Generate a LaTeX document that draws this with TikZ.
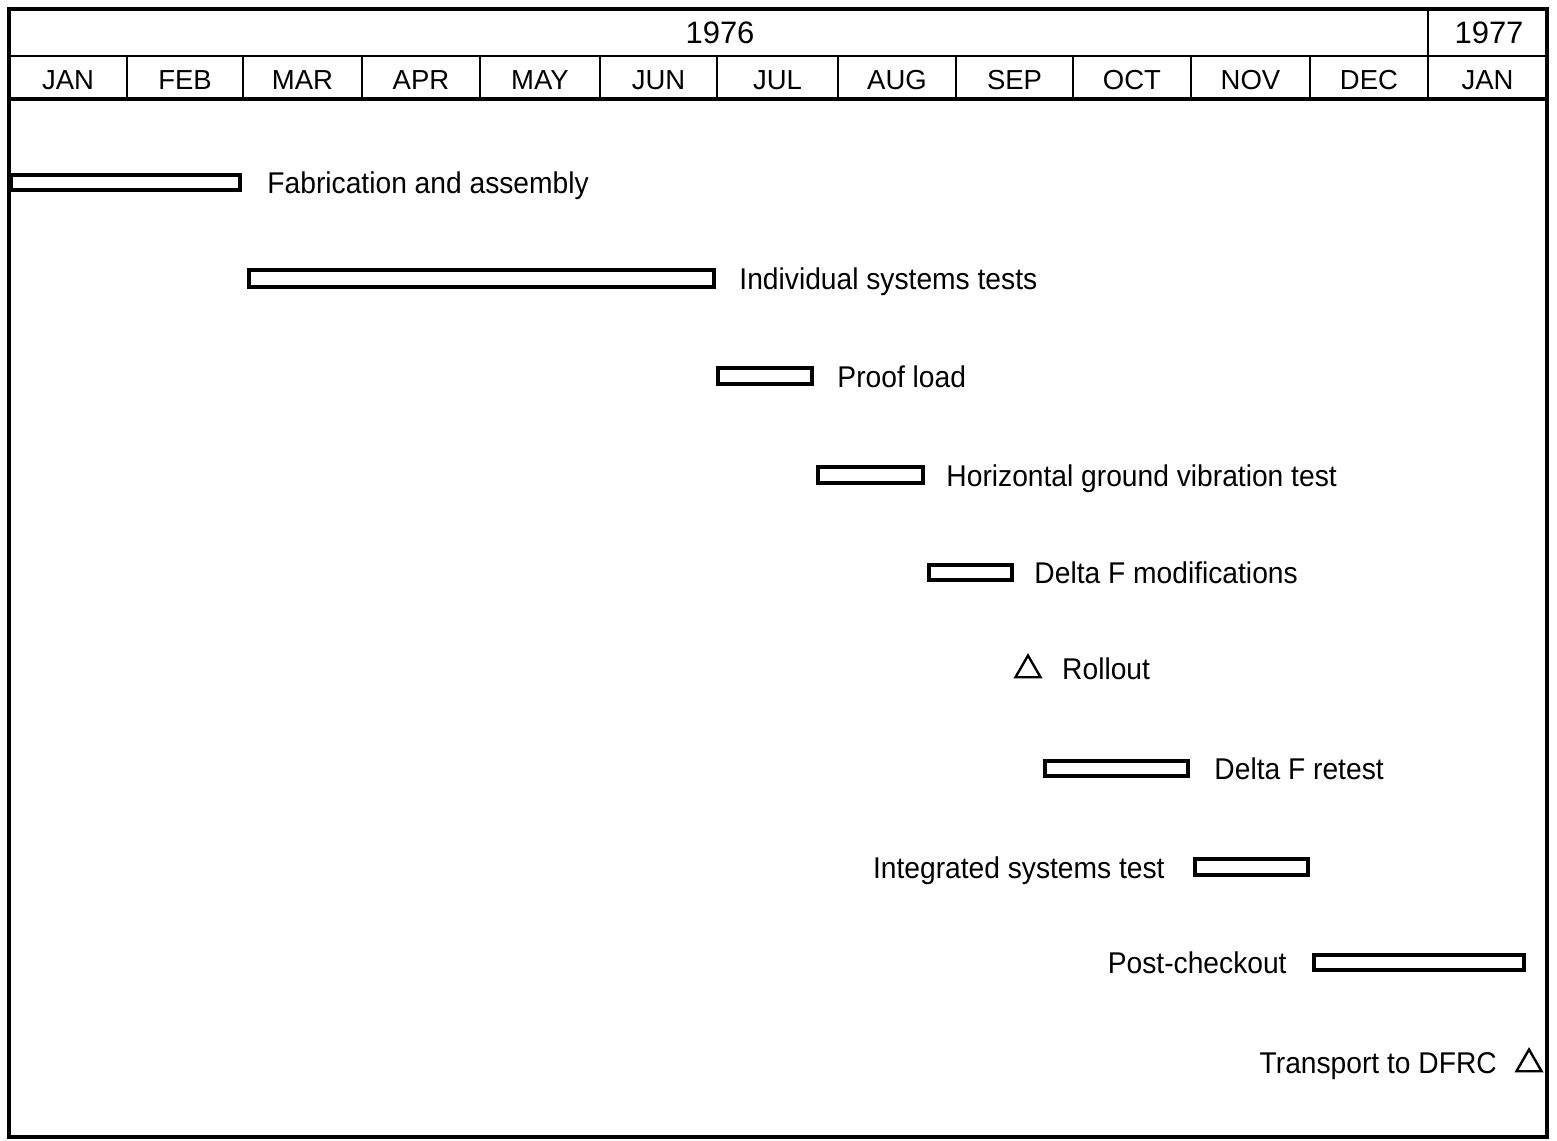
\documentclass[tikz,border=0pt]{standalone}
\usepackage{fontspec}
\setmainfont{Liberation Sans}
\newfontfamily\bodyfont[FakeStretch=0.94]{Liberation Sans}
\usetikzlibrary{calc,shapes.geometric}
\begin{document}
\begin{tikzpicture}[x=1pt,y=-1pt,
  frame/.style={line width=4pt},
  rule/.style={line width=2.5pt},
  bar/.style={draw, rectangle, line width=4.5pt, inner sep=0pt, minimum height=15pt},
  lbl/.style={inner sep=0pt, font=\bodyfont\fontsize{30}{32}\selectfont},
  hdr/.style={inner sep=0pt, anchor=base, font=\fontsize{27.5}{30}\selectfont},
  yr/.style={inner sep=0pt, anchor=base, font=\fontsize{31}{33}\selectfont},
  ms/.style={draw, regular polygon, regular polygon sides=3, line width=2.4pt, inner sep=0pt, minimum size=29pt}
]
\useasboundingbox (0,0) rectangle (1557,1140);
\fill[white] (0,0) rectangle (1557,1140);
% frame and header
\draw[frame] (9,9) rectangle (1547,1137);
\draw[rule] (9,56) -- (1547,56);
\draw[frame] (9,99) -- (1547,99);
\draw[rule] (1428,9) -- (1428,56);
\node[yr] (y76) at (720,44) {1976};
\node[yr] (y77) at (1489,44) {1977};
\foreach \a/\b/\m [count=\i] in {9/127/JAN,127/243/FEB,243/362/MAR,362/480/APR,480/600/MAY,600/717/JUN,717/838/JUL,838/956/AUG,956/1073/SEP,1073/1191/OCT,1191/1310/NOV,1310/1428/DEC,1428/1547/JAN}{
  \node[hdr] (m\i) at ({(\a+\b)/2},89) {\m};
  \ifnum\i<13 \draw[rule] (\b,56) -- (\b,99); \fi
}
% bars
\node[bar, minimum width=229pt] (fab) at (125.5,182.5) {};
\node[bar, minimum width=465pt, minimum height=17pt] (ind) at (481.5,278.5) {};
\node[bar, minimum width=94pt, minimum height=16pt] (proof) at (765,376) {};
\node[bar, minimum width=105pt, minimum height=16pt] (hgv) at (870.5,475) {};
\node[bar, minimum width=83pt] (dfm) at (970.5,572.5) {};
\node[bar, minimum width=143pt] (dfr) at (1116.5,768.5) {};
\node[bar, minimum width=113pt, minimum height=16pt] (ist) at (1251.5,867) {};
\node[bar, minimum width=210pt] (post) at (1419,962.5) {};
% milestones
\node[ms] (roll) at (1028,670) {};
\node[ms] (trans) at (1529,1064) {};
% labels
\node[lbl, anchor=base west] (tfab) at ($(fab.east)+(25,11)$) {Fabrication and assembly};
\node[lbl, anchor=base west] (tind) at ($(ind.east)+(23,11)$) {Individual systems tests};
\node[lbl, anchor=base west] (tproof) at ($(proof.east)+(23,11)$) {Proof load};
\node[lbl, anchor=base west] (thgv) at ($(hgv.east)+(21,11)$) {Horizontal ground vibration test};
\node[lbl, anchor=base west] (tdfm) at ($(dfm.east)+(20,11)$) {Delta F modifications};
\node[lbl, anchor=base west] (troll) at ($(roll.center)+(34,9)$) {Rollout};
\node[lbl, anchor=base west] (tdfr) at ($(dfr.east)+(24,11)$) {Delta F retest};
\node[lbl, anchor=base east] (tist) at ($(ist.west)+(-28,11)$) {Integrated systems test};
\node[lbl, anchor=base east] (tpost) at ($(post.west)+(-25,11)$) {Post-checkout};
\node[lbl, anchor=base east] (ttrans) at ($(trans.center)+(-32,9)$) {Transport to DFRC};
\end{tikzpicture}
\end{document}
